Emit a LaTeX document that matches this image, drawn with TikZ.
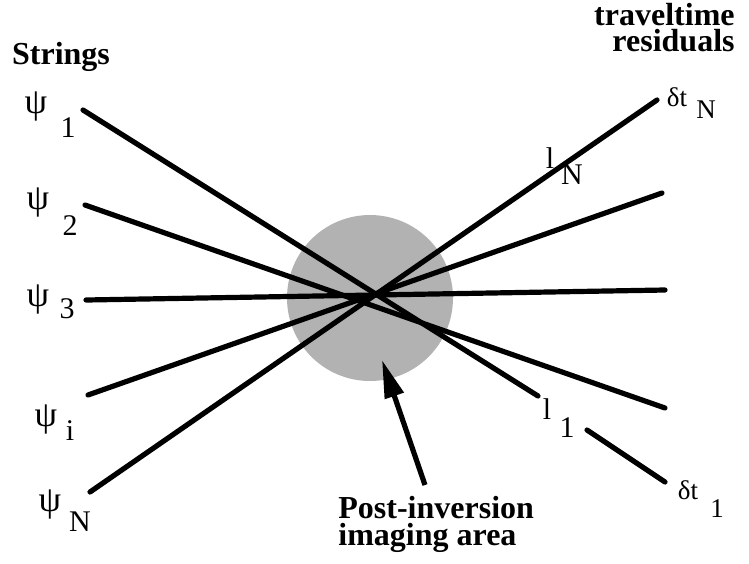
\documentclass[tikz,border=0pt]{standalone}
\usepackage{fontspec}
\setmainfont{Liberation Serif}
\usetikzlibrary{arrows.meta}
\begin{document}
\begin{tikzpicture}[x=0.5pt,y=-0.5pt,
  ray/.style={line width=2.6pt, line cap=round},
  lab/.style={inner sep=0pt, font=\fontsize{15}{15}\selectfont},
  psilab/.style={inner sep=0pt, font=\fontsize{18}{18}\selectfont},
  smalllab/.style={inner sep=0pt, font=\fontsize{13.5}{13.5}\selectfont},
  head/.style={inner sep=0pt, font=\bfseries\fontsize{16}{14}\selectfont}]
\useasboundingbox (0,0) rectangle (749,563);
% imaging area
\fill[black!30] (370,298) circle [radius=41.5pt];
% endpoints
\coordinate (a1) at (83,110);  \coordinate (b1) at (538,396);
\coordinate (c1) at (587,430); \coordinate (e1) at (665,482);
\coordinate (a2) at (85,205);  \coordinate (b2) at (665,408);
\coordinate (a3) at (86,300);  \coordinate (b3) at (665,290);
\coordinate (ai) at (88,395);  \coordinate (bi) at (662,193);
\coordinate (aN) at (90,492);  \coordinate (bN) at (657,100);
\draw[ray] (a1) -- (b1);
\draw[ray] (c1) -- (e1);
\draw[ray] (a2) -- (b2);
\draw[ray] (a3) -- (b3);
\draw[ray] (ai) -- (bi);
\draw[ray] (aN) -- (bN);
% arrow
\coordinate (atail) at (425,485);
\coordinate (atip) at (382,360);
\draw[line width=2.6pt, -{Triangle[length=19pt,width=9.5pt]}] (atail) -- (atip);
% headings
\node[head] (strings) at (61,57) {Strings};
\node[head, anchor=base east] (tt1) at (735,25) {traveltime};
\node[head, anchor=base east] (tt2) at (735,51) {residuals};
\node[head, anchor=base west] (post1) at (338,518) {Post-inversion};
\node[head, anchor=base west] (post2) at (338,545) {imaging area};
% psi labels
\node[psilab] (p1) at (36,106) {ψ};  \node[lab] (p1s) at (68,128) {1};
\node[psilab] (p2) at (38,202) {ψ};  \node[lab] (p2s) at (70,226) {2};
\node[psilab] (p3) at (38,299) {ψ};  \node[lab] (p3s) at (67,309) {3};
\node[psilab] (pi) at (46,419) {ψ};  \node[lab] (pis) at (70,431) {i};
\node[psilab] (pN) at (50,504) {ψ};  \node[lab] (pNs) at (80,522) {N};
% right labels
\node[lab] (lN) at (550,158) {l};  \node[lab] (lNs) at (572,175) {N};
\node[lab] (l1) at (547,409) {l};  \node[lab] (l1s) at (567,428) {1};
\node[smalllab] (dN) at (677,97) {δt}; \node[smalllab] (dNs) at (706,110) {N};
\node[smalllab] (d1) at (688,490) {δt}; \node[smalllab] (d1s) at (717,509) {1};
\end{tikzpicture}
\end{document}
